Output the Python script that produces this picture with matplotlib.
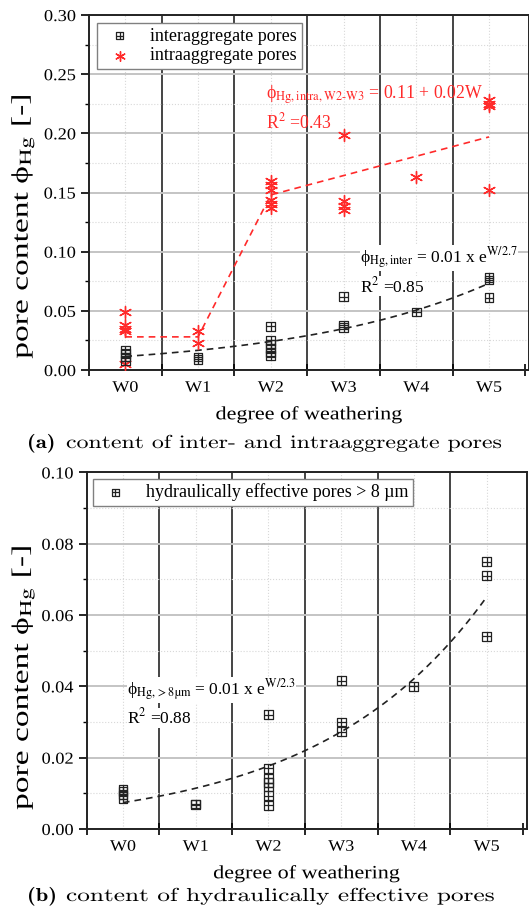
import numpy as np
import matplotlib
matplotlib.use("Agg")
import matplotlib.pyplot as plt
from matplotlib.path import Path
from matplotlib.patheffects import AbstractPathEffect
from matplotlib.transforms import Affine2D
from matplotlib.ticker import MultipleLocator

plt.rcParams['font.family'] = ['Liberation Serif', 'DejaVu Serif']
plt.rcParams['mathtext.fontset'] = 'stix'

# ---- data ----
labels = ['W0', 'W1', 'W2', 'W3', 'W4', 'W5']

inter_x = [0, 0, 0, 0, 1, 1, 2, 2, 2, 2, 2, 2, 3, 3, 3, 4, 5, 5, 5]
inter_y = [0.017, 0.014, 0.011, 0.008, 0.011, 0.009,
           0.037, 0.025, 0.022, 0.018, 0.015, 0.012,
           0.062, 0.038, 0.036, 0.049, 0.078, 0.076, 0.061]

intra_x = [0, 0, 0, 0, 0, 1, 1, 2, 2, 2, 2, 2, 2, 3, 3, 3, 3, 4, 5, 5, 5, 5]
intra_y = [0.049, 0.038, 0.035, 0.033, 0.005, 0.033, 0.023,
           0.160, 0.156, 0.152, 0.144, 0.140, 0.137,
           0.199, 0.143, 0.139, 0.135, 0.163,
           0.228, 0.225, 0.223, 0.152]
intra_trend_x = [0, 1, 2, 5]
intra_trend_y = [0.028, 0.028, 0.148, 0.197]
inter_fit_a, inter_fit_b = 0.0115, 2.7

hyd_x = [0, 0, 0, 0, 1, 1, 2, 2, 2, 2, 2, 2, 2, 3, 3, 3, 4, 5, 5, 5]
hyd_y = [0.011, 0.0105, 0.0095, 0.0085, 0.007, 0.0068,
         0.032, 0.017, 0.0142, 0.013, 0.0118, 0.0093, 0.0066,
         0.0416, 0.030, 0.0273, 0.040, 0.075, 0.071, 0.054]
hyd_fit_a, hyd_fit_b = 0.0074, 2.3

RED = '#ff2a2a'
PHI = '\u03d5'


class Stretch(AbstractPathEffect):
    """widen text horizontally (the reference is a stretched scan)"""

    def __init__(self, sx, anchor='left'):
        super().__init__()
        self.sx = sx
        self.anchor = anchor

    def draw_path(self, renderer, gc, tpath, affine, rgbFace=None):
        ext = tpath.get_extents()
        x0 = {'left': 0, 'center': (ext.x0 + ext.x1) / 2, 'right': ext.x1}[self.anchor]
        t = Affine2D().translate(-x0, 0).scale(self.sx, 1).translate(x0, 0)
        renderer.draw_path(gc, tpath, t + affine, rgbFace)


# square with a cross inside
box_plus = Path([(-1, -1), (1, -1), (1, 1), (-1, 1), (-1, -1),
                 (-1, 0), (1, 0), (0, -1), (0, 1)],
                [Path.MOVETO, Path.LINETO, Path.LINETO, Path.LINETO, Path.LINETO,
                 Path.MOVETO, Path.LINETO, Path.MOVETO, Path.LINETO])


def style_axes(ax, ymax, ymajor, ylab_pos):
    ax.set_xlim(-0.5, 5.55)
    ax.set_ylim(0, ymax)
    ax.yaxis.set_major_locator(MultipleLocator(ymajor))
    ax.yaxis.set_minor_locator(MultipleLocator(ymajor / 2))
    ax.yaxis.set_major_formatter(plt.FormatStrFormatter('%.2f'))
    ax.grid(axis='y', which='major', color='#c4c4c4', lw=1.4, zorder=0)
    ax.grid(axis='y', which='minor', color='#d8d8d8', lw=0.8, ls=':', zorder=0)
    for i in range(len(labels)):
        ax.axvline(i, color='#d8d8d8', lw=0.8, ls=':', zorder=0)
    for i in range(len(labels) - 1):
        ax.axvline(i + 0.5, color='#444444', lw=1.4, zorder=1)
    ax.set_xticks(range(len(labels)))
    ax.set_xticklabels(labels)
    ax.set_xticks(np.arange(-0.5, 6, 1), minor=True)
    ax.tick_params(axis='x', which='major', length=0, labelsize=11.5, pad=7)
    ax.tick_params(axis='x', which='minor', length=8, width=1.2, direction='inout')
    ax.tick_params(axis='y', which='major', length=6, width=1.2, labelsize=12)
    ax.tick_params(axis='y', which='minor', length=3, width=1.0)
    for s in ax.spines.values():
        s.set_linewidth(1.4)
        s.set_color('#222222')
    ax.set_xlabel('degree of weathering', fontsize=13.5, labelpad=7,
                  path_effects=[Stretch(1.18, 'center')])
    ax.set_ylabel('pore content ' + PHI + r'$_{\mathrm{Hg}}$ [-]', fontsize=17,
                  path_effects=[Stretch(1.42, 'center')])
    ax.yaxis.set_label_coords(*ylab_pos)


fig = plt.figure(figsize=(5.29, 9.17), dpi=100)

# ---- (a) ----
ax1 = fig.add_axes([0.1682, 0.5965, 0.8318, 0.3871])
style_axes(ax1, 0.30, 0.05, (-0.118, 0.405))
ax1.scatter(inter_x, inter_y, marker=box_plus, s=40, facecolors='none',
            edgecolors='#222222', linewidths=0.9, zorder=4, label='interaggregate pores')
ax1.scatter(intra_x, intra_y, marker=(6, 2, 0), s=75, color=RED,
            linewidths=1.0, zorder=3, label='intraaggregate pores')
ax1.plot(intra_trend_x, intra_trend_y, ls=(0, (4, 3)), color=RED, lw=1.2, zorder=2)
w = np.linspace(0, 5, 100)
ax1.plot(w, inter_fit_a * np.exp(w / inter_fit_b), ls=(0, (4, 3)), color='#222222',
         lw=1.2, zorder=2)
ax1.text(1.93, 0.229, PHI + r'$_{\mathrm{Hg,intra,W2‐W3}}$ = 0.11 + 0.02W', color=RED,
         fontsize=12.8, va='baseline', zorder=5)
ax1.text(1.93, 0.2046, r'R$^{2}$ =0.43', color=RED, fontsize=12.8, va='baseline', zorder=5)
ax1.text(3.23, 0.0905, PHI + r'$_{\mathrm{Hg,inter}}$ = 0.01 x e$^{\mathrm{W/2.7}}$',
         fontsize=12.5, va='baseline', zorder=5,
         bbox=dict(facecolor='white', edgecolor='none', pad=0))
ax1.text(3.23, 0.0659, r'R$^{2}$ =0.85', fontsize=12.5, va='baseline', zorder=5,
         bbox=dict(facecolor='white', edgecolor='none', pad=0))
leg1 = ax1.legend(loc='upper left', fontsize=13, fancybox=False, edgecolor='#808080',
                  framealpha=1, markerscale=0.8, borderaxespad=0.45,
                  handletextpad=0.7, borderpad=0.25, labelspacing=0.15)
leg1.get_frame().set_linewidth(1.0)
leg1.set_zorder(6)

# ---- (b) ----
ax2 = fig.add_axes([0.1637, 0.0960, 0.8318, 0.3888])
style_axes(ax2, 0.10, 0.02, (-0.112, 0.425))
ax2.scatter(hyd_x, hyd_y, marker=box_plus, s=40, facecolors='none',
            edgecolors='#222222', linewidths=0.9, zorder=4,
            label='hydraulically effective pores > 8 µm')
ax2.plot(w, hyd_fit_a * np.exp(w / hyd_fit_b), ls=(0, (4, 3)), color='#222222',
         lw=1.2, zorder=2)
ax2.text(0.055, 0.0376, PHI + r'$_{\mathrm{Hg,}{>}\mathrm{8µm}}$ = 0.01 x e$^{\mathrm{W/2.3}}$',
         fontsize=12.5, va='baseline', zorder=5,
         bbox=dict(facecolor='white', edgecolor='none', pad=0))
ax2.text(0.055, 0.0295, r'R$^{2}$ =0.88', fontsize=12.5, va='baseline', zorder=5,
         bbox=dict(facecolor='white', edgecolor='none', pad=0))
leg2 = ax2.legend(loc='upper left', fontsize=13, fancybox=False, edgecolor='#808080',
                  framealpha=1, markerscale=0.8, borderaxespad=0.35,
                  handletextpad=0.7, borderpad=0.25)
leg2.get_frame().set_linewidth(1.0)
leg2.set_zorder(6)

# ---- captions ----
for y, tag, txt, sx in [(1 - 443 / 917, '(a)', 'content of inter- and intraaggregate pores', 1.27),
                        (1 - 896 / 917, '(b)', 'content of hydraulically effective pores', 1.35)]:
    fig.text(27 / 529, y, tag, family='cmb10', fontsize=13.5, va='center',
             path_effects=[Stretch(1.2)])
    fig.text(66 / 529, y, txt, family='cmr10', fontsize=13.5, va='center',
             path_effects=[Stretch(sx)])

# tick labels get the same widening
fig.canvas.draw()
for ax in (ax1, ax2):
    for lab in ax.get_xticklabels():
        lab.set_path_effects([Stretch(1.13, 'center')])
    for lab in ax.get_yticklabels():
        lab.set_path_effects([Stretch(1.1, 'right')])

fig.savefig('out.png', dpi=100)
